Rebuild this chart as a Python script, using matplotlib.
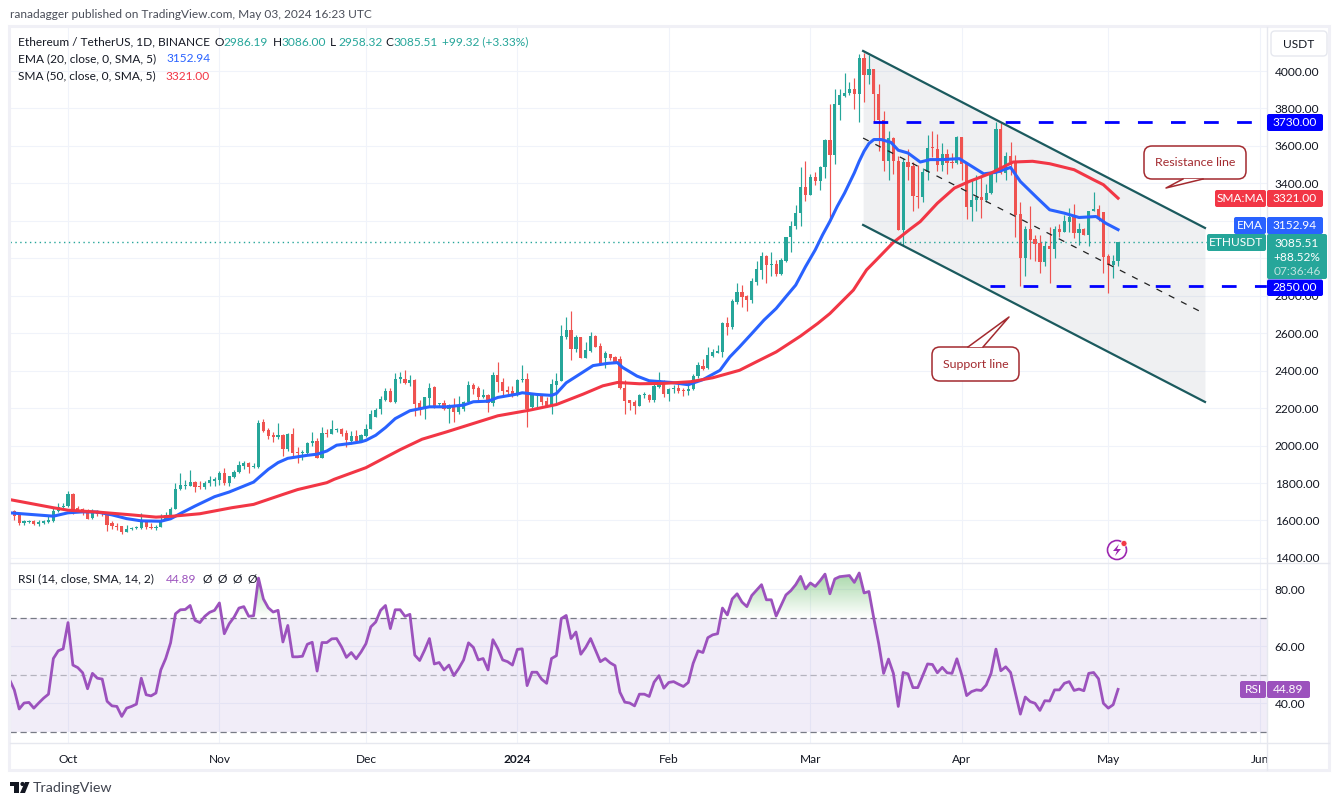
"""
plot.py
=======
ETH/USDT daily chart with EMA 20, SMA 50, RSI and the hand-drawn channel.
Prices below were read off the picture by eye.
"""

import numpy as np
import pandas as pd
import matplotlib.pyplot as plt
from matplotlib.patches import FancyBboxPatch, Polygon, Rectangle, Circle
from matplotlib.path import Path

plt.rcParams['font.family'] = ['Lato', 'DejaVu Sans']

# ---------------------------------------------------------------------------
# Data
# ---------------------------------------------------------------------------
dates = pd.date_range('2023-09-19', '2024-05-03')

opens = [
    1632, 1648, 1628, 1584, 1591, 1596, 1580, 1586, 1594, 1596, 1653, 1671,
    1675, 1739, 1665, 1659, 1650, 1612, 1650, 1637, 1635, 1584, 1570, 1568, 1537, 1553, 1558, 1558,
    1600, 1563, 1560, 1564, 1603, 1630, 1664, 1766, 1784, 1786, 1807, 1781, 1777, 1798, 1811,
    1816, 1853, 1798, 1832, 1857, 1891, 1905, 1886, 1886, 2125, 2082, 2055, 2045, 2055, 1982,
    2061, 1962, 1958, 1958, 2012, 2022, 1934, 2066, 2061, 2083, 2087, 2065, 2026, 2050, 2025,
    2050, 2090, 2155, 2195, 2246, 2293, 2232, 2358, 2358, 2335, 2350, 2225, 2193, 2254, 2314,
    2220, 2225, 2193, 2212, 2177, 2196, 2230, 2323, 2307, 2259, 2268, 2228, 2377, 2340, 2296, 2291,
    2270, 2350, 2353, 2205, 2268, 2270, 2237, 2214, 2323, 2344, 2582, 2618, 2516, 2582, 2468,
    2507, 2585, 2532, 2466, 2487, 2475, 2460, 2310, 2243, 2234, 2212, 2268, 2270, 2246, 2314, 2346,
    2275, 2302, 2309, 2294, 2290, 2303, 2372, 2423, 2415, 2477, 2495, 2500, 2657, 2634, 2766,
    2820, 2798, 2777, 2875, 2938, 3013, 2966, 2970, 2916, 2988, 3113, 3170, 3240, 3382,
    3336, 3436, 3415, 3487, 3629, 3550, 3818, 3866, 3881, 3906, 3875, 4068, 3977, 4009, 3879,
    3741, 3518, 3643, 3518, 3152, 3515, 3494, 3330, 3325, 3459, 3593, 3584, 3496, 3557, 3512, 3509,
    3646, 3505, 3276, 3312, 3326, 3312, 3348, 3455, 3693, 3455, 3548, 3514, 3235, 3003, 3157,
    3101, 3080, 2982, 3068, 3050, 3157, 3139, 3195, 3223, 3134, 3157, 3125, 3250, 3264, 3246,
    3012, 2964, 2986.19,
]
highs = [
    1664, 1655, 1630, 1605, 1603, 1600, 1600, 1600, 1631, 1668, 1691, 1695,
    1755, 1745, 1675, 1668, 1659, 1664, 1658, 1640, 1640, 1596, 1584, 1570, 1578, 1563, 1570, 1641,
    1605, 1587, 1578, 1632, 1645, 1670, 1802, 1855, 1816, 1868, 1810, 1809, 1810, 1837, 1830,
    1862, 1878, 1837, 1868, 1916, 1916, 1914, 1909, 2136, 2140, 2093, 2070, 2123, 2060, 2066,
    2093, 1995, 1975, 2020, 2073, 2038, 2098, 2091, 2136, 2095, 2096, 2084, 2078, 2084, 2060,
    2114, 2191, 2200, 2266, 2310, 2310, 2387, 2391, 2403, 2377, 2353, 2243, 2260, 2332, 2318,
    2228, 2246, 2220, 2255, 2264, 2240, 2344, 2332, 2318, 2302, 2275, 2391, 2446, 2359, 2318, 2318,
    2353, 2430, 2385, 2278, 2278, 2275, 2260, 2355, 2385, 2644, 2686, 2719, 2591, 2582, 2555,
    2608, 2591, 2546, 2507, 2490, 2480, 2480, 2350, 2246, 2243, 2275, 2284, 2278, 2328, 2394, 2350,
    2305, 2323, 2327, 2310, 2340, 2380, 2447, 2461, 2527, 2514, 2536, 2661, 2684, 2780, 2868,
    2857, 2804, 2893, 2988, 3034, 3018, 3034, 2991, 3000, 3116, 3197, 3286, 3490, 3522,
    3450, 3463, 3495, 3638, 3822, 3902, 3902, 3991, 3943, 3965, 4090, 4095, 4086, 4013, 3932,
    3786, 3682, 3647, 3545, 3536, 3586, 3516, 3500, 3482, 3660, 3678, 3666, 3616, 3585, 3562, 3655,
    3646, 3505, 3419, 3446, 3446, 3398, 3459, 3728, 3728, 3566, 3619, 3553, 3303, 3173, 3280,
    3125, 3125, 3094, 3169, 3173, 3182, 3232, 3268, 3291, 3191, 3162, 3253, 3353, 3282, 3246,
    3021, 3018, 3086.00,
]
lows = [
    1625, 1605, 1575, 1577, 1585, 1575, 1570, 1580, 1587, 1592, 1645, 1669,
    1671, 1637, 1644, 1628, 1610, 1610, 1625, 1623, 1546, 1552, 1548, 1527, 1537, 1548, 1552, 1557,
    1552, 1557, 1548, 1564, 1600, 1625, 1660, 1762, 1766, 1784, 1752, 1770, 1766, 1784, 1784,
    1787, 1787, 1784, 1825, 1852, 1873, 1852, 1880, 1882, 2070, 2034, 2020, 2034, 1945, 1971,
    1945, 1905, 1923, 1955, 1998, 1934, 1934, 2046, 2060, 2070, 2052, 1995, 2007, 2020, 2020,
    2048, 2089, 2150, 2168, 2240, 2230, 2228, 2335, 2328, 2319, 2159, 2162, 2141, 2207, 2203,
    2207, 2189, 2118, 2127, 2168, 2185, 2230, 2278, 2243, 2252, 2180, 2210, 2287, 2257, 2278, 2257,
    2264, 2341, 2100, 2203, 2207, 2216, 2207, 2168, 2225, 2344, 2568, 2457, 2502, 2468, 2468,
    2502, 2525, 2430, 2416, 2457, 2448, 2303, 2168, 2190, 2168, 2210, 2252, 2234, 2234, 2305, 2260,
    2240, 2280, 2282, 2264, 2270, 2295, 2360, 2405, 2411, 2473, 2495, 2473, 2589, 2620, 2755,
    2741, 2720, 2763, 2857, 2889, 2870, 2906, 2906, 2911, 2982, 3036, 3159, 3175, 3304,
    3336, 3391, 3363, 3427, 3197, 3502, 3738, 3863, 3872, 3795, 3727, 3834, 3932, 3729, 3572,
    3468, 3416, 3452, 3152, 3066, 3416, 3250, 3271, 3298, 3419, 3541, 3468, 3468, 3450, 3482, 3505,
    3419, 3210, 3201, 3250, 3214, 3303, 3344, 3410, 3451, 3419, 3446, 3116, 2851, 2907, 2994,
    2987, 2919, 2960, 2866, 3000, 3116, 3139, 3143, 3107, 3071, 3125, 3068, 3250, 3201, 2923,
    2816, 2896, 2958.32,
]
closes = [
    1645, 1623, 1587, 1598, 1596, 1580, 1590, 1596, 1600, 1653, 1671, 1675,
    1739, 1641, 1655, 1641, 1610, 1650, 1636, 1632, 1578, 1570, 1566, 1537, 1555, 1557, 1562, 1600,
    1563, 1560, 1564, 1603, 1630, 1664, 1770, 1787, 1792, 1807, 1777, 1778, 1798, 1814, 1820,
    1853, 1798, 1836, 1857, 1895, 1905, 1887, 1889, 2123, 2077, 2052, 2046, 2055, 1980, 2061,
    1959, 1959, 1962, 2016, 2023, 1934, 2066, 2062, 2087, 2087, 2061, 2028, 2050, 2025, 2055,
    2091, 2168, 2192, 2248, 2293, 2232, 2358, 2362, 2335, 2350, 2221, 2193, 2257, 2310, 2207,
    2225, 2193, 2214, 2177, 2216, 2234, 2323, 2302, 2260, 2268, 2228, 2377, 2337, 2293, 2287, 2264,
    2350, 2353, 2193, 2270, 2272, 2234, 2213, 2328, 2344, 2586, 2618, 2516, 2582, 2468, 2510,
    2585, 2528, 2430, 2493, 2466, 2448, 2305, 2240, 2225, 2210, 2270, 2273, 2246, 2318, 2350, 2275,
    2302, 2307, 2293, 2290, 2303, 2372, 2429, 2411, 2482, 2498, 2504, 2657, 2634, 2772, 2820,
    2795, 2777, 2879, 2943, 3013, 2966, 2968, 2916, 2991, 3116, 3173, 3243, 3382, 3336,
    3436, 3415, 3490, 3629, 3550, 3822, 3870, 3884, 3906, 3875, 4068, 3977, 4009, 3875, 3741,
    3518, 3643, 3518, 3152, 3515, 3488, 3330, 3325, 3459, 3589, 3587, 3496, 3557, 3509, 3509, 3646,
    3505, 3276, 3312, 3326, 3312, 3348, 3455, 3693, 3455, 3548, 3514, 3232, 3003, 3157, 3098,
    3076, 2982, 3068, 3050, 3157, 3139, 3200, 3223, 3134, 3157, 3125, 3253, 3264, 3209, 3009,
    2964, 2985, 3085.51,
]

# EMA 20 and SMA 50, read at day offsets from the first candle
ema_days = [0, 9, 12, 15, 18, 21, 24, 27, 31, 33, 35, 38, 42, 45, 50, 51, 53, 55, 57, 61, 63, 65,
            67, 70, 72, 73, 75, 77, 79, 82, 86, 89.5, 93, 95, 98, 100, 104, 105, 108, 111, 112,
            114, 117, 119.5, 122.5, 124.5, 125.5, 128.5, 131, 135.5, 139, 142, 145.5, 147.5, 149.5,
            152, 154.5, 157, 159, 161, 163, 165, 166.5, 168, 169.5, 171, 173, 174, 175, 176, 177,
            178.5, 180.5, 182, 184, 186.5, 188.5, 191, 194.5, 196.5, 199.5, 202, 205, 207, 210.5,
            213, 216, 219, 222.5, 224.5, 227]
ema_vals = [1641, 1623, 1641, 1646, 1645, 1630, 1610, 1598, 1596, 1609, 1637, 1677, 1727, 1752, 1805,
            1828, 1873, 1909, 1932, 1948, 1954, 1971, 2002, 2012, 2020, 2028, 2055, 2096, 2144, 2186,
            2207, 2207, 2216, 2234, 2237, 2257, 2275, 2282, 2273, 2268, 2278, 2335, 2385, 2427, 2439,
            2443, 2418, 2371, 2346, 2337, 2325, 2352, 2402, 2473, 2527, 2598, 2670, 2732, 2795, 2857,
            2955, 3045, 3125, 3197, 3277, 3348, 3456, 3518, 3572, 3613, 3634, 3634, 3619, 3577, 3562,
            3514, 3527, 3527, 3532, 3500, 3451, 3459, 3485, 3410, 3321, 3259, 3241, 3218, 3223, 3187,
            3152.94]

sma_days = [0, 9, 12, 18.5, 25, 30, 33.5, 39, 45.5, 50, 56, 59, 65, 66.5, 73, 80, 84.5, 89.5, 94.5,
            100, 106.5, 112, 117.5, 121.5, 124.5, 129, 134, 139.5, 144, 149.5, 153, 157, 162, 165.5, 168,
            172.8, 175.5, 177.5, 181, 184.5, 186.5, 190, 193.5, 196.5, 201, 205.5, 209.5, 213, 218,
            222, 224, 227]
sma_vals = [1712, 1668, 1655, 1644, 1630, 1618, 1623, 1636, 1668, 1686, 1739, 1765, 1802, 1820, 1882,
            1978, 2034, 2073, 2114, 2159, 2189, 2219, 2275, 2319, 2337, 2330, 2332, 2341, 2362, 2402, 2448,
            2500, 2585, 2652, 2705, 2830, 2938, 2991, 3085, 3157, 3196, 3294, 3375, 3410, 3455, 3514,
            3518, 3505, 3473, 3419, 3393, 3321]

rsi_vals = [
    48.4, 44.7, 38.0, 40.1, 40.3, 38.3, 40.1, 41.8, 43.2, 55.7, 58.4, 59.1, 68.3, 53.4, 52.5, 50.7,
    45.1, 50.5, 48.8, 48.5, 40.7, 39.1, 38.9, 35.4, 38.3, 38.9, 39.7, 48.8, 43.0, 42.6, 43.6, 51.7,
    55.7, 61.2, 71.4, 72.8, 72.9, 74.3, 69.1, 68.3, 70.5, 71.9, 72.6, 75.2, 64.4, 67.9, 70.2, 73.4,
    73.9, 70.5, 70.7, 83.9, 76.6, 73.5, 72.0, 72.6, 61.5, 67.3, 56.3, 56.3, 56.5, 60.7, 61.4, 51.3,
    61.3, 61.3, 62.6, 62.7, 59.8, 56.1, 57.8, 55.6, 58.0, 60.9, 66.8, 68.5, 72.6, 74.3, 66.2, 72.8,
    72.8, 70.5, 71.2, 56.9, 55.0, 58.6, 62.7, 53.8, 54.3, 51.7,
    53.4, 49.7, 52.2, 55.2, 61.2, 59.6, 55.2, 55.7, 51.7, 62.3, 59.2, 55.2, 54.6, 53.4, 58.9, 59.1,
    46.2, 50.9, 50.9, 48.4, 47.0, 55.7, 56.7, 69.7, 70.8, 62.7, 65.0, 57.2, 59.6, 62.7, 58.6, 54.6,
    55.7, 54.2, 53.2, 43.9, 40.4, 40.1, 39.1, 43.2, 43.2, 42.4, 47.4, 49.7, 45.3, 47.3, 47.6, 46.7,
    45.9, 47.3, 54.0, 58.4, 57.8, 63.0, 64.0, 64.4, 73.4, 71.0, 76.6, 78.4, 75.5, 73.9, 77.8, 79.7,
    81.6, 76.3, 76.3, 70.6, 74.3, 78.0, 79.5, 81.6, 84.5, 80.1, 82.2, 81.0, 83.0, 85.3, 78.4, 83.6,
    84.4, 84.6, 84.8, 82.4, 85.7, 78.7, 79.2, 69.7, 60.9, 50.5, 55.5,
    50.5, 38.9, 50.8, 50.3, 45.5, 45.5, 49.6, 53.8, 53.6, 50.7, 52.6, 50.7, 50.5, 55.6, 49.9, 42.7,
    44.1, 44.7, 44.5, 46.4, 50.5, 59.0, 51.4, 52.8, 50.8, 43.5, 36.2, 42.2, 40.6, 40.0, 37.5, 40.9,
    40.8, 44.7, 44.7, 47.0, 47.6, 44.5, 45.0, 44.4, 50.5, 50.8, 48.6, 40.0, 38.3, 39.5, 44.89,
]

# channel drawn on the chart: (day offset, price) ends
channel_days = [174.8, 244.8]
channel_top = [4107, 3162]
channel_mid = [3642, 2703]
channel_bot = [3178, 2233]
level_high = 3730
level_low = 2850
level_high_start = 176.9
level_low_start = 200.8

price_ticks = [1400, 1600, 1800, 2000, 2200, 2400, 2600, 2800, 3000, 3200, 3400, 3600, 3800, 4000]
rsi_ticks = [40, 60, 80]
month_dates = ['2023-10-01', '2023-11-01', '2023-12-01', '2024-01-01', '2024-02-01',
               '2024-03-01', '2024-04-01', '2024-05-01', '2024-06-01']
month_labels = ['Oct', 'Nov', 'Dec', '2024', 'Feb', 'Mar', 'Apr', 'May', 'Jun']

# ---------------------------------------------------------------------------
# Colours and layout (pixels of the 1341x805 picture)
# ---------------------------------------------------------------------------
UP, DOWN = '#26a69a', '#ef5350'
EMA_COL, SMA_COL, RSI_COL = '#2962ff', '#f23645', '#9c52bd'
LEVEL_COL = '#0000ff'
TEXT = '#131722'
GRID = '#f0f3fa'
FONT = 8.6
W, H = 1341, 805
PANE_L, PANE_R = 10, 1267
PRICE_T, PRICE_B = 27, 563
RSI_T, RSI_B = 563, 742.5


def pane(top, bottom):
    return [PANE_L / W, 1 - bottom / H, (PANE_R - PANE_L) / W, (bottom - top) / H]


fig = plt.figure(figsize=(W / 100, H / 100), dpi=100, facecolor='white')
ax = fig.add_axes(pane(PRICE_T, PRICE_B))
ax_rsi = fig.add_axes(pane(RSI_T, RSI_B))
over = fig.add_axes([0, 0, 1, 1], zorder=5)
over.set_xlim(0, W)
over.set_ylim(H, 0)
over.axis('off')

days = np.arange(len(dates))
month_pos = [(pd.Timestamp(m) - dates[0]).days for m in month_dates]
xlim = (0.12, 257.5)

for a in (ax, ax_rsi):
    a.set_xlim(*xlim)
    a.set_xticks(month_pos)
    a.set_axisbelow(True)
    a.grid(color=GRID, lw=0.8)
    a.yaxis.tick_right()
    a.tick_params(length=0, labelcolor=TEXT, labelsize=FONT, pad=5.5)
    for s in a.spines.values():
        s.set_visible(False)

# ---------------------------------------------------------------------------
# Price pane
# ---------------------------------------------------------------------------
ax.set_ylim(1373, 4235)
ax.set_yticks(price_ticks)
ax.set_yticklabels([f'{p:.2f}' for p in price_ticks])
ax.set_xticklabels([])

ax.fill_between(channel_days, channel_bot, channel_top, color='#6a7488', alpha=0.1, lw=0, zorder=1)
ax.axhline(closes[-1], color=UP, lw=1.0, ls=(0, (1, 2.5)), zorder=1.5)

o, h, l, c = map(np.array, (opens, highs, lows, closes))
colors = np.where(c >= o, UP, DOWN)
ax.vlines(days, l, h, colors=colors, lw=0.85, zorder=3)
body = np.maximum(np.abs(c - o), 6)
ax.bar(days, body, bottom=np.minimum(o, c), width=0.66, color=colors, lw=0, zorder=3)

ax.plot(ema_days, ema_vals, color=EMA_COL, lw=2.2, zorder=4, solid_joinstyle='round')
ax.plot(sma_days, sma_vals, color=SMA_COL, lw=2.2, zorder=4, solid_joinstyle='round')

ax.plot(channel_days, channel_top, color='#1b5a5e', lw=1.6, zorder=5)
ax.plot(channel_days, channel_bot, color='#1b5a5e', lw=1.6, zorder=5)
ax.plot(channel_days, channel_mid, color='#222222', lw=0.9, ls=(0, (5, 6)), zorder=5)
ax.plot([level_high_start, xlim[1]], [level_high] * 2, color=LEVEL_COL, lw=2.0,
        ls=(0, (5.3, 6.6)), zorder=5)
ax.plot([level_low_start, xlim[1]], [level_low] * 2, color=LEVEL_COL, lw=2.0,
        ls=(0, (5.3, 6.6)), zorder=5)

# ---------------------------------------------------------------------------
# RSI pane
# ---------------------------------------------------------------------------
ax_rsi.set_ylim(26.25, 89.2)
ax_rsi.set_yticks(rsi_ticks)
ax_rsi.set_yticklabels([f'{r:.2f}' for r in rsi_ticks])
ax_rsi.set_xticklabels(month_labels)
ax_rsi.tick_params(axis='x', pad=8)
ax_rsi.get_xticklabels()[3].set_fontweight('bold')

ax_rsi.axhspan(30, 70, color='#7e57c2', alpha=0.1, lw=0, zorder=1)
for level, alpha in ((70, 1.0), (50, 0.5), (30, 1.0)):
    ax_rsi.axhline(level, color='#787b86', lw=0.9, alpha=alpha, ls=(0, (5, 3)), zorder=2)

rsi = np.array(rsi_vals)
above = ax_rsi.fill_between(days, 70, rsi, where=rsi > 70, interpolate=True, facecolor='none', lw=0)
grad = np.zeros((64, 1, 4))
grad[..., :3] = (0.30, 0.69, 0.31)
grad[:, 0, 3] = np.linspace(0.0, 0.5, 64)
img = ax_rsi.imshow(grad, extent=(xlim[0], xlim[1], 70, 86), origin='lower', aspect='auto', zorder=2)
img.set_clip_path(Path.make_compound_path(*above.get_paths()), transform=ax_rsi.transData)
ax_rsi.set_xlim(*xlim)
ax_rsi.set_ylim(26.25, 89.2)
ax_rsi.plot(days, rsi, color=RSI_COL, lw=2.0, zorder=4)

# ---------------------------------------------------------------------------
# Frame and scale separators
# ---------------------------------------------------------------------------
over.add_patch(Rectangle((PANE_R + 0.5, RSI_B), 62, 27, fc='white', ec='none', zorder=1))
over.add_patch(Rectangle((9.5, 26.5), 1320, 743, fc='none', ec='#f0f0f6', lw=2.2, zorder=1))
over.plot([PANE_L, 1329], [RSI_T, RSI_T], color='#e6e8ef', lw=1.0, zorder=1)
over.plot([PANE_L, 1329], [RSI_B, RSI_B], color='#e6e8ef', lw=1.0, zorder=1)
over.plot([PANE_R, PANE_R], [27, 770], color='#e6e8ef', lw=1.0, zorder=1)


def label(x, y, s, color=TEXT, size=FONT, ha='left', **kw):
    over.text(x, y, s, color=color, fontsize=size, ha=ha, va='center', zorder=6, **kw)


def tag(x0, x1, y0, y1, color, s=None, y_text=None):
    over.add_patch(FancyBboxPatch((x0, y0), x1 - x0, y1 - y0, boxstyle='round,pad=0,rounding_size=2',
                                  fc=color, ec='none', zorder=4))
    if s:
        label((x0 + x1) / 2, y_text or (y0 + y1) / 2, s, color='white', ha='center')


def bubble(x0, x1, y0, y1, base, tip, s):
    edge = '#a32a2f'
    over.add_patch(FancyBboxPatch((x0, y0), x1 - x0, y1 - y0, boxstyle='round,pad=0,rounding_size=8',
                                  fc='white', ec=edge, lw=1.1, zorder=3))
    y_base = y0 if tip[1] < y0 else y1
    tail = [(base[0], y_base), tip, (base[1], y_base)]
    over.add_patch(Polygon(tail, closed=True, fc='white', ec='none', zorder=3.1))
    over.plot(*zip(*tail), color=edge, lw=1.1, zorder=3.2)
    label((x0 + x1) / 2, (y0 + y1) / 2 + 0.5, s, color='#a32a2f', size=8.9, ha='center')


# ---------------------------------------------------------------------------
# Header and legends
# ---------------------------------------------------------------------------
label(10, 15, 'ranadagger published on TradingView.com, May 03, 2024 16:23 UTC', color='#4a4e59')
label(18, 42, 'Ethereum / TetherUS, 1D, BINANCE')
for x, key, val in ((215, 'O', '2986.19'), (273, 'H', '3086.00'), (330, 'L', '2958.32'), (385, 'C', '3085.51')):
    label(x, 42, key)
    label(x + 8, 42, val, color=UP)
label(442, 42, '+99.32 (+3.33%)', color=UP)
label(18, 59, 'EMA (20, close, 0, SMA, 5)')
label(166, 59, '3152.94', color=EMA_COL)
label(18, 76, 'SMA (50, close, 0, SMA, 5)')
label(165, 76, '3321.00', color=SMA_COL)
label(18, 579, 'RSI (14, close, SMA, 14, 2)')
label(166, 579, '44.89', color=RSI_COL)
for x in (207, 222, 237, 252):
    label(x, 579, '\u00d8', ha='center')

over.add_patch(FancyBboxPatch((1271, 31), 56, 25, boxstyle='round,pad=0,rounding_size=4',
                              fc='white', ec='#e6e8ef', lw=1.0, zorder=4))
label(1299, 44, 'USDT', ha='center')

# ---------------------------------------------------------------------------
# Price tags on the scale
# ---------------------------------------------------------------------------
tag(1267, 1323, 114, 131, LEVEL_COL, '3730.00')
tag(1267, 1323, 279.5, 296, LEVEL_COL, '2850.00')
tag(1215, 1266, 190, 207, SMA_COL, 'SMA:MA')
tag(1267, 1323, 190, 207, SMA_COL, '3321.00')
tag(1234, 1266, 217, 234, EMA_COL, 'EMA')
tag(1267, 1323, 217, 234, EMA_COL, '3152.94')
tag(1207, 1266, 234, 251, UP, 'ETHUSDT')
tag(1267, 1327, 234, 279, UP, '3085.51', y_text=243)
label(1297, 257, '+88.52%', color='white', ha='center')
label(1297, 271, '07:36:46', color='#bfe4e0', ha='center')
tag(1240, 1266, 681, 698, RSI_COL, 'RSI')
tag(1267, 1310, 681, 698, RSI_COL, '44.89')

bubble(1144, 1246, 146, 179, (1183, 1203), (1166, 188), 'Resistance line')
bubble(932, 1019, 347, 381, (968, 983), (1009, 317), 'Support line')

# small alert icon
over.add_patch(Circle((1117, 550), 9.5, fc='white', ec='#9c27b0', lw=1.2, zorder=4))
over.add_patch(Polygon([(1119, 544), (1113, 551), (1117, 551), (1115, 556), (1121, 549), (1117, 549)],
                       fc='#9c27b0', ec='none', zorder=5))
over.add_patch(Circle((1124, 543.5), 3, fc='#f23645', ec='white', lw=0.5, zorder=5))

# TradingView logo
for pts in ([(10, 782), (19, 782), (19, 793), (14.5, 793), (14.5, 786), (10, 786)],
            [(25, 782), (29.5, 782), (25, 793), (20, 793)]):
    over.add_patch(Polygon(pts, fc='#131722', ec='none', zorder=5))
over.add_patch(Circle((22.5, 784), 2.1, fc='#131722', ec='none', zorder=5))
label(33, 787.5, 'TradingView', color='#3f434e', size=10.3)

fig.savefig('out.png', dpi=100)
